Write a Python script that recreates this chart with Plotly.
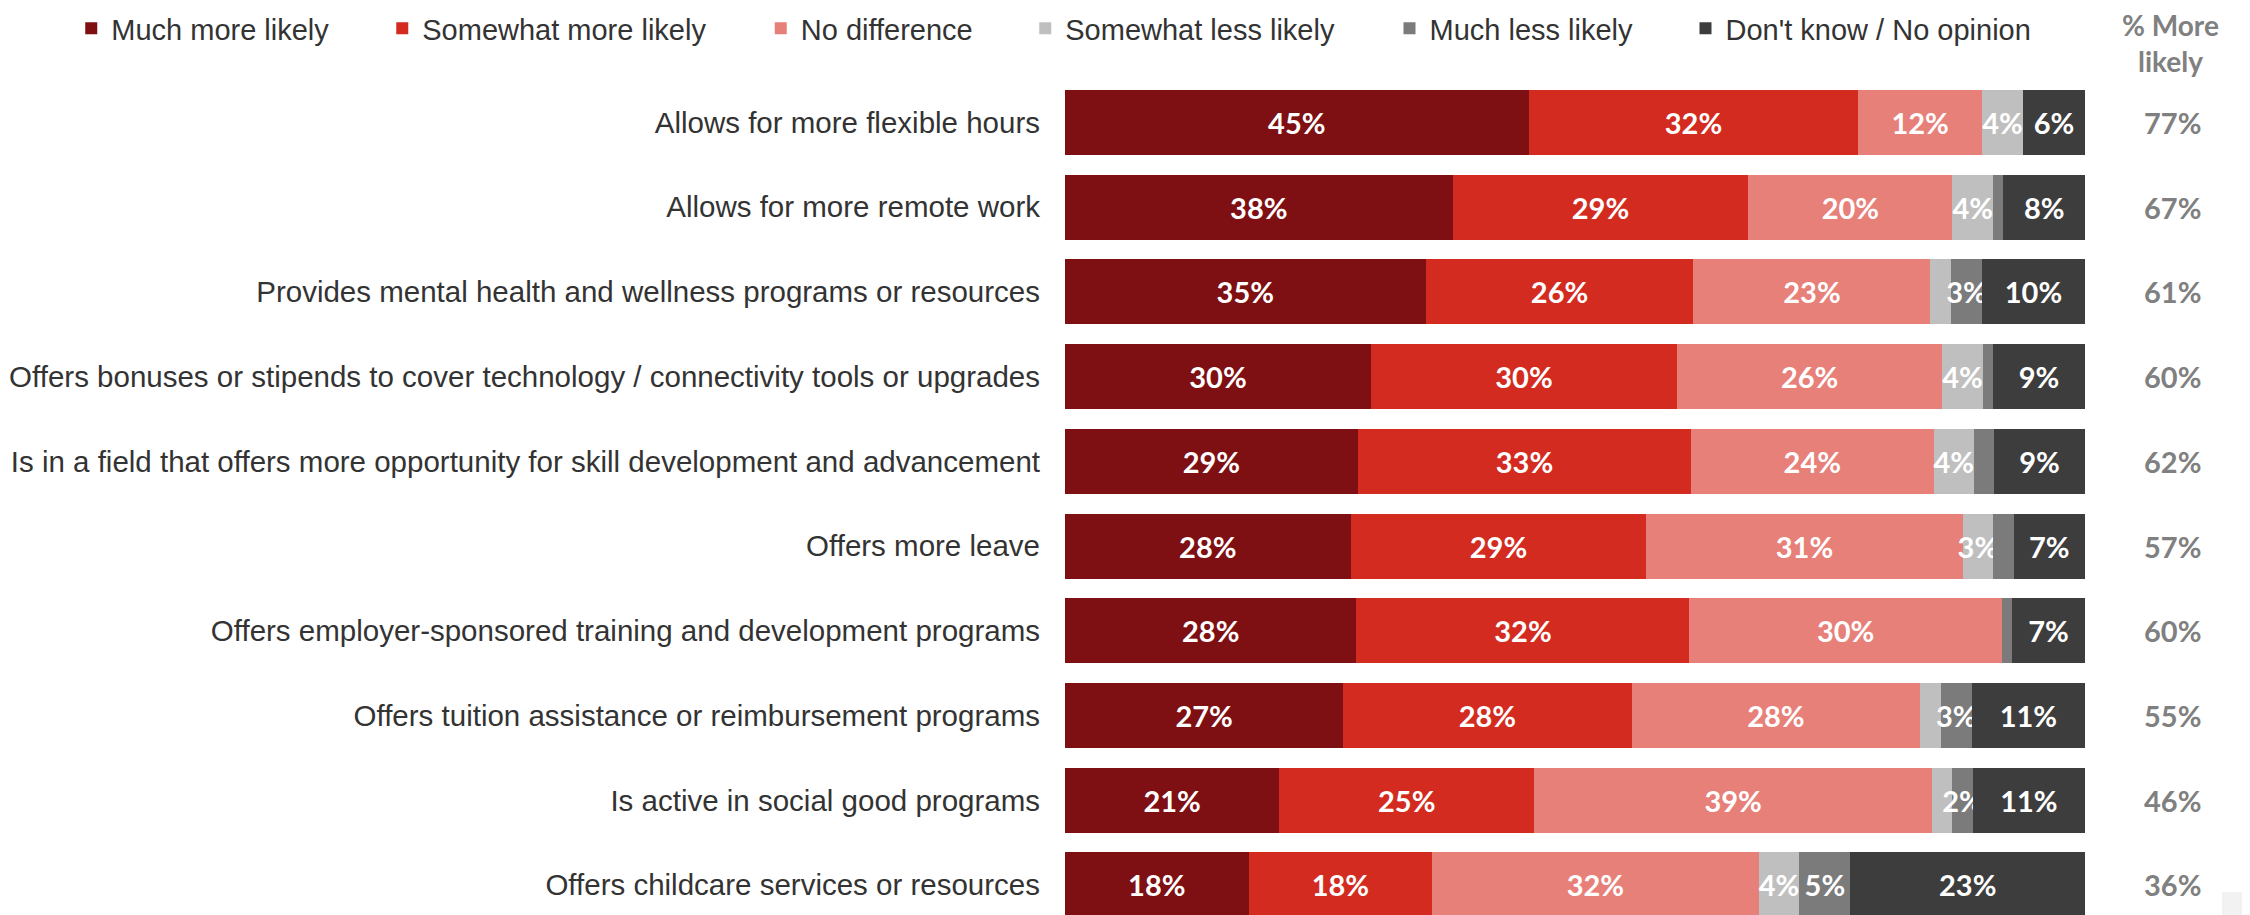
import plotly.graph_objects as go

# ---------------- data ----------------
categories = [
    "Allows for more flexible hours",
    "Allows for more remote work",
    "Provides mental health and wellness programs or resources",
    "Offers bonuses or stipends to cover technology / connectivity tools or upgrades",
    "Is in a field that offers more opportunity for skill development and advancement",
    "Offers more leave",
    "Offers employer-sponsored training and development programs",
    "Offers tuition assistance or reimbursement programs",
    "Is active in social good programs",
    "Offers childcare services or resources",
]
series_names = ["Much more likely", "Somewhat more likely", "No difference",
                "Somewhat less likely", "Much less likely", "Don't know / No opinion"]
much_more = [45, 38, 35, 30, 29, 28, 28, 27, 21, 18]
somewhat_more = [32, 29, 26, 30, 33, 29, 32, 28, 25, 18]
no_difference = [12, 20, 23, 26, 24, 31, 30, 28, 39, 32]
somewhat_less = [4, 4, 2, 4, 4, 3, 0, 2, 2, 4]
much_less = [0, 1, 3, 1, 2, 2, 1, 3, 2, 5]
dont_know = [6, 8, 10, 9, 9, 7, 7, 11, 11, 23]
# segments under 3% are normally unlabeled; this one is labeled in the original
extra_labels = {(8, "Much less likely")}
right_header = "% More<br>likely"

series_values = [much_more, somewhat_more, no_difference, somewhat_less, much_less, dont_know]

# ---------------- styles ----------------
colors = ["#7e0f12", "#d42b20", "#e8807a", "#bfbfbf", "#7b7b7b", "#3d3d3d"]
W, H = 2250, 915
OFF = 8                      # page body margin offset (px)
PL, PR = 1065 - OFF, 2085 - OFF     # plot area left/right in figure px
PT, PB = 80.15 - OFF, 915 - OFF     # plot area top/bottom in figure px
ROW_PX = 84.7
legend_item_px = [71.25, 382.25, 760.75, 1025.25, 1389.5, 1685.5]  # target px

def px_x(p):
    return (p - OFF - PL) / (PR - PL)

def px_y(p):
    return (PB - (p - OFF)) / (PB - PT)

n = len(categories)
row_tot = [sum(s[i] for s in series_values) for i in range(n)]
ypos = list(range(n))

LABEL_FONT = dict(family="Lato", size=29, color="white", weight="bold")
GREY_FONT = dict(family="Lato", size=29, color="#808080", weight="bold")

fig = go.Figure()
for k, (name, vals, col) in enumerate(zip(series_names, series_values, colors)):
    xs = [v / row_tot[i] * 100 for i, v in enumerate(vals)]
    txt = [f"{v}%" if (v >= 3 or (i, name) in extra_labels) else "" for i, v in enumerate(vals)]
    fig.add_trace(go.Bar(
        name=name, y=ypos, x=xs, orientation="h",
        marker=dict(color=col, line=dict(width=0)),
        width=0.767,
        text=txt, textposition="inside", insidetextanchor="middle", textangle=0,
        textfont=LABEL_FONT,
        legend="legend" if k == 0 else f"legend{k+1}",
        hoverinfo="skip",
    ))

annotations = []
for i in range(n):
    annotations.append(dict(
        x=px_x(2172), xref="paper", y=ypos[i], yref="y",
        text=f"{much_more[i] + somewhat_more[i]}%", showarrow=False,
        xanchor="center", yanchor="middle", font=GREY_FONT,
    ))
annotations.append(dict(
    x=px_x(2170), xref="paper", y=px_y(43), yref="paper",
    text=right_header, showarrow=False, xanchor="center", yanchor="middle",
    font=dict(family="Lato", size=28, color="#808080", weight="bold"),
))

layout_legends = {}
for k in range(len(series_names)):
    key = "legend" if k == 0 else f"legend{k+1}"
    layout_legends[key] = dict(
        x=px_x(legend_item_px[k]), xanchor="left",
        y=px_y(28.5), yanchor="middle",
        orientation="h", bgcolor="rgba(0,0,0,0)", borderwidth=0,
        font=dict(family="Liberation Sans, Arial", size=29, color="#333333"),
        itemclick=False, itemdoubleclick=False,
    )

fig.update_layout(
    width=W, height=H,
    barmode="stack",
    plot_bgcolor="white", paper_bgcolor="white",
    margin=dict(l=PL, r=W - PR, t=PT, b=H - PB, autoexpand=False),
    showlegend=True,
    uniformtext=dict(minsize=29, mode="show"),
    xaxis=dict(range=[0, 100], visible=False, fixedrange=True),
    yaxis=dict(
        range=[9 + (915 - 885) / ROW_PX, -0.5],
        tickvals=ypos, ticktext=categories,
        showgrid=False, zeroline=False, showline=False, ticks="",
        ticklabelstandoff=24,
        tickfont=dict(family="Liberation Sans, Arial", size=29.5, color="#333333"),
        automargin=False, fixedrange=True,
    ),
    annotations=annotations,
    shapes=[dict(type="rect", xref="paper", yref="paper",
                 x0=px_x(2222), x1=px_x(2250), y0=px_y(915), y1=px_y(892),
                 fillcolor="#f2f2f2", line=dict(width=0), layer="below")],
    **layout_legends,
)

fig.write_html("out.html")
